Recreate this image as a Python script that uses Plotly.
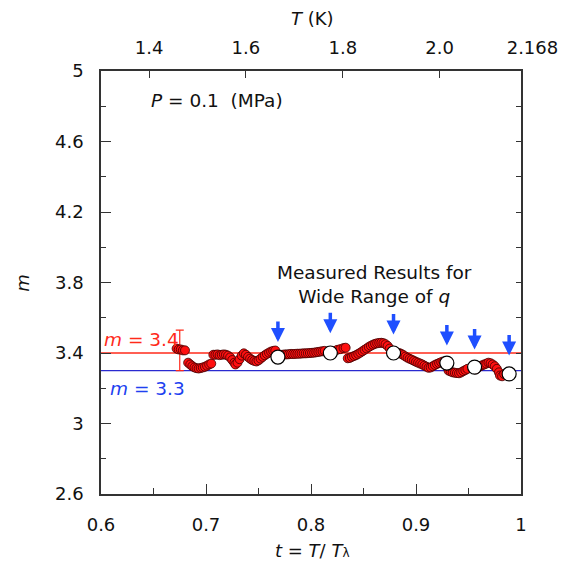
import plotly.graph_objects as go

# ---- data ----
t_red = [0.672, 0.674, 0.676, 0.678, 0.680,
         0.683, 0.685, 0.687, 0.689, 0.691, 0.693, 0.695, 0.697, 0.699, 0.701, 0.703, 0.705,
         0.707, 0.709, 0.711, 0.713, 0.715, 0.717, 0.719, 0.721, 0.723,
         0.725, 0.727, 0.728, 0.730, 0.732, 0.734, 0.736, 0.738, 0.740, 0.742, 0.744, 0.746,
         0.748, 0.750, 0.752, 0.754, 0.756, 0.758, 0.760, 0.762, 0.764, 0.766,
         0.771, 0.773, 0.775, 0.777, 0.779, 0.781, 0.783, 0.785, 0.787, 0.789, 0.791, 0.793,
         0.795, 0.797, 0.799, 0.801, 0.803, 0.805, 0.807, 0.809, 0.811, 0.813,
         0.822, 0.825, 0.828, 0.831, 0.833,
         0.835, 0.837, 0.839, 0.841, 0.843, 0.845, 0.847, 0.849, 0.851, 0.853, 0.855, 0.857,
         0.859, 0.861, 0.863, 0.865, 0.867, 0.869, 0.871, 0.873, 0.875,
         0.884, 0.886, 0.888, 0.890, 0.892, 0.894, 0.896, 0.898, 0.900, 0.902, 0.904, 0.906,
         0.908, 0.910, 0.912, 0.914, 0.916, 0.918, 0.920, 0.922, 0.924, 0.926,
         0.931, 0.933, 0.935, 0.937, 0.939, 0.941, 0.943, 0.945, 0.947, 0.949,
         0.957, 0.959, 0.961, 0.963, 0.965, 0.967, 0.969, 0.971, 0.973, 0.975, 0.977, 0.979,
         0.980, 0.982, 0.984]
m_red = [3.425, 3.420, 3.420, 3.415, 3.415,
         3.345, 3.335, 3.325, 3.318, 3.314, 3.312, 3.315, 3.318, 3.322, 3.328, 3.335, 3.340,
         3.390, 3.390, 3.392, 3.388, 3.390, 3.392, 3.390, 3.385, 3.375,
         3.360, 3.345, 3.335, 3.345, 3.365, 3.385, 3.398, 3.390, 3.378, 3.368, 3.360, 3.355,
         3.352, 3.358, 3.368, 3.378, 3.387, 3.395, 3.402, 3.408, 3.412, 3.414,
         3.390, 3.390, 3.392, 3.392, 3.393, 3.395, 3.394, 3.395, 3.396, 3.396, 3.397, 3.398,
         3.398, 3.399, 3.400, 3.401, 3.402, 3.404, 3.406, 3.408, 3.410, 3.412,
         3.410, 3.418, 3.422, 3.428, 3.430,
         3.370, 3.372, 3.378, 3.383, 3.388, 3.395, 3.402, 3.410, 3.418, 3.426, 3.434, 3.441,
         3.447, 3.452, 3.455, 3.457, 3.458, 3.456, 3.450, 3.440, 3.425,
         3.400, 3.395, 3.388, 3.380, 3.373, 3.367, 3.362, 3.356, 3.350, 3.345, 3.340, 3.335,
         3.328, 3.322, 3.316, 3.318, 3.325, 3.332, 3.338, 3.343, 3.348, 3.352,
         3.300, 3.295, 3.290, 3.288, 3.286, 3.285, 3.290, 3.297, 3.303, 3.310,
         3.307, 3.318, 3.325, 3.330, 3.335, 3.340, 3.345, 3.342, 3.335, 3.325, 3.310, 3.290,
         3.272, 3.268, 3.280]

t_wide = [0.7685, 0.8184, 0.8786, 0.9294, 0.9558, 0.9887]
m_wide = [3.377, 3.400, 3.400, 3.343, 3.320, 3.281]
m_arrow_tip = [3.462, 3.512, 3.505, 3.442, 3.420, 3.386]

t_err = [0.675]
m_err = [3.415]
m_err_size = [0.115]

m_ref_red = 3.4
m_ref_blue = 3.3

x_ticks = [0.6, 0.7, 0.8, 0.9, 1.0]
x_ticktext = ["0.6", "0.7", "0.8", "0.9", "1"]
y_ticks = [2.6, 3.0, 3.4, 3.8, 4.2, 4.6, 5.0]
y_ticktext = ["2.6", "3", "3.4", "3.8", "4.2", "4.6", "5"]
T_lambda = 2.168
T_ticks = [1.4, 1.6, 1.8, 2.0, 2.168]
T_ticktext = ["1.4", "1.6", "1.8", "2.0", "\u00a0\u00a0\u00a0\u00a02.168"]

FONT = "DejaVu Sans"
AX = "#333333"
RED = "#ff2a1a"
BLUE = "#2a2ad0"
ARROW = "#1f4fff"

fig = go.Figure()

# reference lines
fig.add_trace(go.Scatter(x=[0.6, 1.0], y=[m_ref_red, m_ref_red], mode="lines",
                         line=dict(color=RED, width=1.3), hoverinfo="skip"))
fig.add_trace(go.Scatter(x=[0.6, 1.0], y=[m_ref_blue, m_ref_blue], mode="lines",
                         line=dict(color=BLUE, width=1.3), hoverinfo="skip"))

# error bar
fig.add_trace(go.Scatter(x=t_err, y=m_err, mode="markers",
                         marker=dict(size=1, color="rgba(0,0,0,0)"),
                         error_y=dict(type="data", array=m_err_size, visible=True,
                                      color=RED, thickness=1.2, width=4),
                         hoverinfo="skip"))

# red data
fig.add_trace(go.Scatter(x=t_red, y=m_red, mode="markers",
                         marker=dict(size=9, color="#ff1010",
                                     line=dict(color="#400000", width=0.8)),
                         hoverinfo="skip"))

# white circles
fig.add_trace(go.Scatter(x=t_wide, y=m_wide, mode="markers",
                         marker=dict(size=14, color="white",
                                     line=dict(color="black", width=1.2)),
                         hoverinfo="skip"))

# invisible trace for secondary axes
fig.add_trace(go.Scatter(x=[1.5], y=[3.0], xaxis="x2", yaxis="y2", mode="markers",
                         marker=dict(size=1, color="rgba(0,0,0,0)"), hoverinfo="skip"))

annotations = []
for tx, tip in zip(t_wide, m_arrow_tip):
    annotations.append(dict(x=tx, y=tip, xref="x", yref="y", text="", showarrow=True,
                            ax=0, ay=-22, arrowhead=2, arrowsize=0.8, arrowwidth=3.5,
                            arrowcolor=ARROW, standoff=0))

annotations += [
    dict(x=0.601, y=3.474, xref="x", yref="y", xanchor="left", yanchor="middle",
         text="<i>m</i> = 3.4", showarrow=False, font=dict(family=FONT, size=18.5, color=RED)),
    dict(x=0.607, y=3.196, xref="x", yref="y", xanchor="left", yanchor="middle",
         text="<i>m</i> = 3.3", showarrow=False, font=dict(family=FONT, size=18.5, color="#2040f0")),
    dict(x=0.6455, y=4.83, xref="x", yref="y", xanchor="left", yanchor="middle",
         text="<i>P</i> = 0.1  (MPa)", showarrow=False, font=dict(family=FONT, size=18.5, color="#111")),
    dict(x=0.8607, y=3.79, xref="x", yref="y", xanchor="center", yanchor="middle",
         text="Measured Results for<br>Wide Range of <i>q</i>", showarrow=False,
         font=dict(family=FONT, size=18.5, color="#111")),
    dict(x=0.5035, y=-0.133, xref="paper", yref="paper", xanchor="center", yanchor="middle",
         text="<i>t</i> = <i>T</i>/ <i>T</i><span style='font-size:12px'>λ</span>",
         showarrow=False, font=dict(family=FONT, size=18, color="#111")),
    dict(x=0.5035, y=1.125, xref="paper", yref="paper", xanchor="center", yanchor="middle",
         text="<i>T</i> (K)", showarrow=False, font=dict(family=FONT, size=18, color="#111")),
    dict(x=-0.186, y=0.499, xref="paper", yref="paper", xanchor="center", yanchor="middle",
         text="<i>m</i>", textangle=-90, showarrow=False,
         font=dict(family=FONT, size=18, color="#111")),
]

# page body has an 8px default margin: shift figure so the plot area lands where the reference has it
fig.update_layout(
    width=562, height=561,
    margin=dict(l=93, r=44, t=63, b=75),
    plot_bgcolor="white", paper_bgcolor="white",
    showlegend=False,
    font=dict(family=FONT, size=18, color="#111"),
    annotations=annotations,
    xaxis=dict(range=[0.6, 1.0], tickvals=x_ticks, ticktext=x_ticktext,
               ticks="inside", ticklen=10, tickwidth=1, tickcolor=AX,
               minor=dict(dtick=0.05, tick0=0.6, ticks="inside", ticklen=6, tickcolor=AX),
               showline=True, linecolor=AX, linewidth=1.5, mirror=False,
               showgrid=False, zeroline=False, ticklabelstandoff=14),
    yaxis=dict(range=[2.6, 5.0], tickvals=y_ticks, ticktext=y_ticktext,
               ticks="inside", ticklen=10, tickwidth=1, tickcolor=AX,
               minor=dict(dtick=0.2, tick0=2.6, ticks="inside", ticklen=5, tickcolor=AX),
               showline=True, linecolor=AX, linewidth=1.5, mirror=False,
               showgrid=False, zeroline=False, ticklabelstandoff=12),
    xaxis2=dict(range=[0.6 * T_lambda, T_lambda], overlaying="x", side="top", anchor="y",
                tickvals=T_ticks, ticktext=T_ticktext,
                ticks="inside", ticklen=7, tickwidth=1, tickcolor=AX,
                showline=True, linecolor=AX, linewidth=1.5,
                showgrid=False, zeroline=False, ticklabelstandoff=8),
    yaxis2=dict(range=[2.6, 5.0], overlaying="y", side="right", anchor="x",
                dtick=0.2, tick0=2.6, ticks="inside", ticklen=5, tickcolor=AX,
                showticklabels=False, showline=True, linecolor=AX, linewidth=1.5,
                showgrid=False, zeroline=False),
)

fig.write_html("out.html")
